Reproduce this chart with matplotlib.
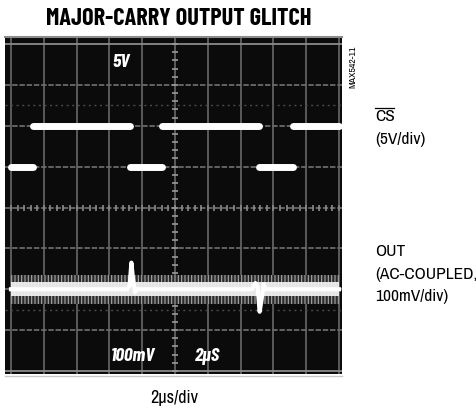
import matplotlib
matplotlib.use("Agg")
import matplotlib.pyplot as plt
from matplotlib.lines import Line2D
import numpy as np

# ---- data (in screen divisions) ----
cs_edges = [0, 0.67, 3.63, 4.60, 7.56, 8.60, 10.0]
cs_levels = [5.0, 6.0, 5.0, 6.0, 5.0, 6.0]

out_t = [0, 3.55, 3.62, 3.67, 3.72, 3.78, 3.85, 7.35, 7.45, 7.52, 7.58, 7.64, 7.70, 7.78, 10.0]
out_v = [2.0, 2.0, 2.1, 2.65, 2.25, 1.93, 2.0, 2.0, 2.15, 2.05, 1.45, 1.75, 2.12, 2.0, 2.0]

title = "MAJOR-CARRY OUTPUT GLITCH"
scope_labels = ["5V", "100mV", "2µS"]
xlabel = "2µs/div"

NARROW = ['Archivo Narrow', 'DejaVu Sans']
BOLDC = ['Barlow Condensed', 'DejaVu Sans']

W, H = 477, 414
fig = plt.figure(figsize=(W / 100, H / 100), dpi=100)
fig.patch.set_facecolor('white')

def fx(px):
    return px / W

def fy(py):
    return 1 - py / H

# scope screen
ax = fig.add_axes([fx(5), fy(375), fx(342) - fx(5), fy(39) - fy(375)])
ax.set_facecolor('#0b0b0b')
ax.set_xlim((5 - 11) / 32.8, (342 - 11) / 32.8)
ax.set_ylim(-(375 - 372) / 40.875, (372 - 39) / 40.875)
ax.set_xticks([]); ax.set_yticks([])
for s in ax.spines.values():
    s.set_visible(False)

grid_c = '#6a6a6a'
for gx in range(0, 11):
    ax.axvline(gx, color=grid_c, lw=1.3, alpha=0.9, zorder=1)
for gy in range(0, 9):
    ls = '-' if gy in (0, 8) else (0, (3, 1))
    ax.axhline(gy, color=grid_c if gy not in (0, 8) else '#8a8a8a', lw=1.3, ls=ls, zorder=1)
# faint dotted lines
for gy in (1.5, 6.5):
    ax.axhline(gy, color='#4a4a4a', lw=1.0, ls=(0, (1.5, 2.5)), zorder=1)
# centre axes tick marks
ticks_x = np.arange(0, 10.01, 0.2)
ax.plot(ticks_x, np.full_like(ticks_x, 4.0), ls='none', marker='|', ms=4, mew=1.2, color='#8a8a8a', zorder=1)
ticks_y = np.arange(0, 8.01, 0.2)
ax.plot(np.full_like(ticks_y, 5.0), ticks_y, ls='none', marker='_', ms=5, mew=1.2, color='#9a9a9a', zorder=1)

# CS trace
ax.hlines(cs_levels, cs_edges[:-1], cs_edges[1:], colors='white', lw=5.0, capstyle='round', zorder=3)

# OUT trace: fuzzy band with vertical streaks + glitch trace
plt.rcParams['hatch.linewidth'] = 0.8
ax.fill_between([0, 10], [2 - 0.36] * 2, [2 + 0.36] * 2, facecolor='#2a2a2a', edgecolor='#a8a8a8',
                hatch='|||||', lw=0, zorder=2)
ax.fill_between([0, 10], [2 - 0.17] * 2, [2 + 0.17] * 2, color='#f0f0f0', alpha=0.95, lw=0, zorder=2)
ax.plot(out_t, out_v, color='white', lw=3, zorder=3)

# scope annotations
for lab, px, py in zip(scope_labels, [121, 133, 207], [63, 357, 357]):
    ax.text((px - 11) / 32.8, (372 - py) / 40.875, lab, color='white', fontsize=14,
            fontweight='bold', style='italic', family=BOLDC, ha='center', va='center', zorder=4)

# lines outside the screen
fig.add_artist(Line2D([fx(5), fx(342)], [fy(38), fy(38)], color='#8c8c8c', lw=1.5))
fig.add_artist(Line2D([fx(5), fx(342)], [fy(377), fy(377)], color='#c8c8c8', lw=1.0))

# title
fig.text(fx(179), fy(19), title, fontsize=17.5, fontweight='bold', family=BOLDC,
         ha='center', va='center', color='black')

# side ID
fig.text(fx(353), fy(67), "MAX542-11", fontsize=7, rotation=90, family=NARROW,
         ha='center', va='center', color='black')

# right labels
cs_t = fig.text(fx(375), fy(117), "CS", fontsize=12.5, family=NARROW, ha='left', va='center')
fig.text(fx(375), fy(140), "(5V/div)", fontsize=12.5, family=NARROW, ha='left', va='center')
fig.text(fx(375), fy(252), "OUT", fontsize=12.5, family=NARROW, ha='left', va='center')
fig.text(fx(375), fy(275), "(AC-COUPLED,", fontsize=12.5, family=NARROW, ha='left', va='center')
fig.text(fx(375), fy(297), "100mV/div)", fontsize=12.5, family=NARROW, ha='left', va='center')

# x label
fig.text(fx(174), fy(398), xlabel, fontsize=13, family=NARROW, ha='center', va='center')

# overline on CS
fig.canvas.draw()
bb = cs_t.get_window_extent()
x0, x1 = bb.x0 / W, bb.x1 / W
ytop = (bb.y1 + 0.5) / H
fig.add_artist(Line2D([x0 + 0.001, x1 - 0.001], [ytop, ytop], color='black', lw=0.9))

fig.savefig("out.png", dpi=100, facecolor='white')
